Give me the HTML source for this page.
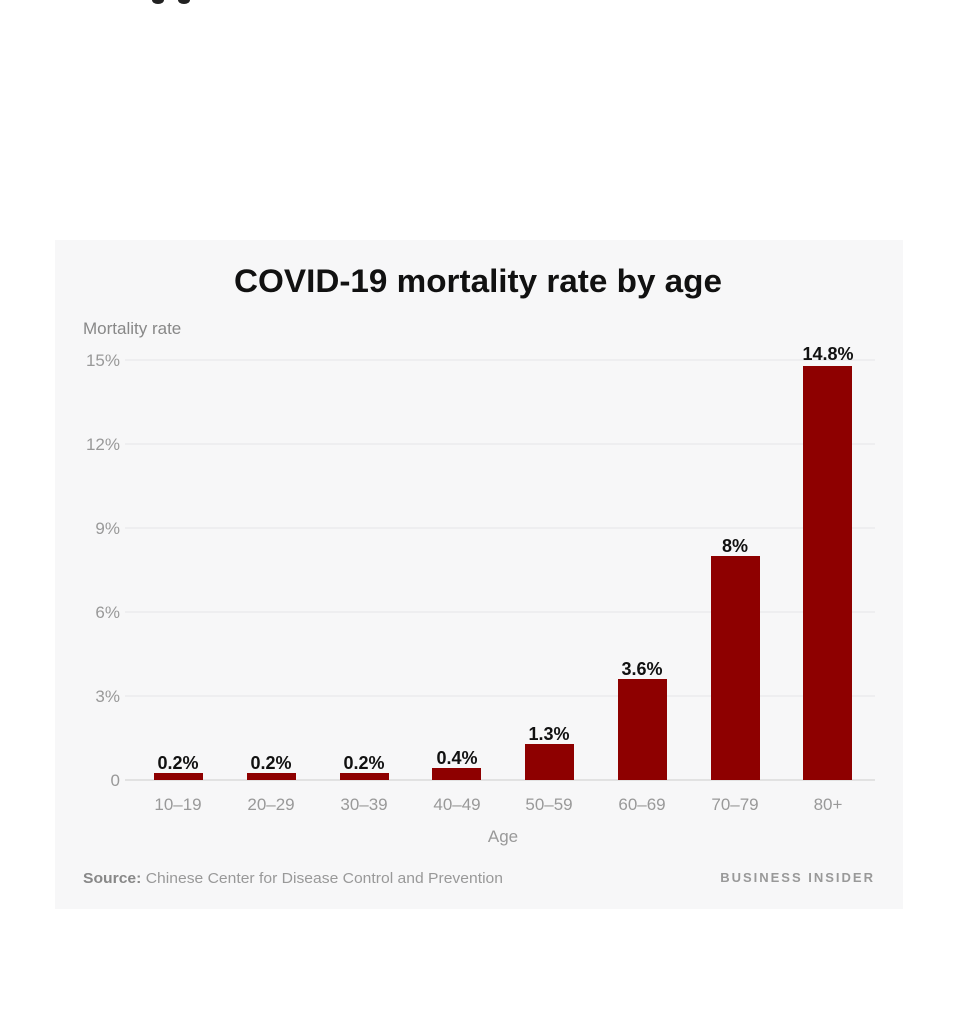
<!DOCTYPE html>
<html><head><style>
body{margin:0;background:#fff;width:959px;height:1024px;position:relative;overflow:hidden;font-family:"Liberation Sans",sans-serif}
.p{position:absolute;left:55px;top:240px;width:848px;height:669px;background:#f7f7f8}
.a{position:absolute}
</style></head><body>
<div class="a" style="left:152px;top:-4px;width:12px;height:8px;border-radius:50%;background:#222"></div>
<div class="a" style="left:178px;top:-4px;width:12px;height:8px;border-radius:50%;background:#222"></div>
<div class="p"></div>
<svg class="a" style="left:0;top:0" width="959" height="1024" font-family="Liberation Sans, sans-serif">
<text x="478" y="292" text-anchor="middle" font-size="32" font-weight="bold" fill="#111" textLength="488" lengthAdjust="spacingAndGlyphs">COVID-19 mortality rate by age</text>
<text x="83" y="334" font-size="17" fill="#888">Mortality rate</text>
<g stroke="#e6e6e8" stroke-width="1">
<line x1="125" x2="875" y1="360" y2="360"/><line x1="125" x2="875" y1="444" y2="444"/><line x1="125" x2="875" y1="528" y2="528"/><line x1="125" x2="875" y1="612" y2="612"/><line x1="125" x2="875" y1="696" y2="696"/>
</g>
<line x1="125" x2="875" y1="780" y2="780" stroke="#ccc"/>
<g font-size="17" fill="#999" text-anchor="end">
<text x="120" y="366">15%</text><text x="120" y="450">12%</text><text x="120" y="534">9%</text><text x="120" y="618">6%</text><text x="120" y="702">3%</text><text x="120" y="786">0</text>
</g>
<g fill="#8e0000">
<rect x="154" y="773" width="49" height="7"/><rect x="247" y="773" width="49" height="7"/><rect x="340" y="773" width="49" height="7"/><rect x="432" y="768" width="49" height="12"/><rect x="525" y="744" width="49" height="36"/><rect x="618" y="679" width="49" height="101"/><rect x="711" y="556" width="49" height="224"/><rect x="803" y="366" width="49" height="414"/>
</g>
<g font-size="18" font-weight="bold" fill="#111" text-anchor="middle">
<text x="178" y="769">0.2%</text><text x="271" y="769">0.2%</text><text x="364" y="769">0.2%</text><text x="457" y="764">0.4%</text><text x="549" y="740">1.3%</text><text x="642" y="675">3.6%</text><text x="735" y="552">8%</text><text x="828" y="360">14.8%</text>
</g>
<g font-size="17" fill="#999" text-anchor="middle">
<text x="178" y="810">10–19</text><text x="271" y="810">20–29</text><text x="364" y="810">30–39</text><text x="457" y="810">40–49</text><text x="549" y="810">50–59</text><text x="642" y="810">60–69</text><text x="735" y="810">70–79</text><text x="828" y="810">80+</text>
<text x="503" y="842">Age</text>
</g>
<text x="83" y="883" font-size="15" fill="#999" textLength="420" lengthAdjust="spacingAndGlyphs"><tspan font-weight="bold" fill="#888">Source:</tspan> Chinese Center for Disease Control and Prevention</text>
<text x="875" y="882" font-size="13" fill="#999" font-weight="bold" text-anchor="end" letter-spacing="2">BUSINESS INSIDER</text>
</svg>
</body></html>
